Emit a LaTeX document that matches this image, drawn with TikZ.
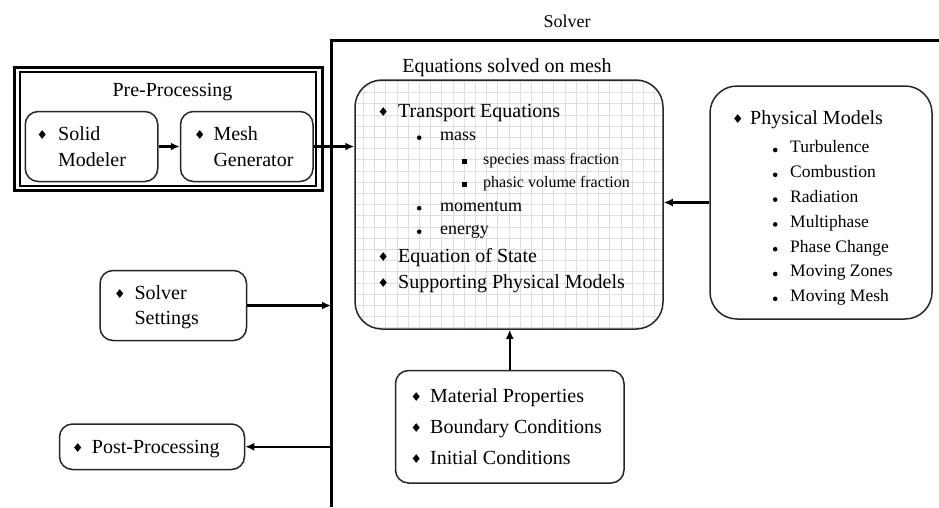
\documentclass[tikz,border=0pt]{standalone}
\usepackage{fontspec}
\setmainfont{Liberation Serif}
\usetikzlibrary{arrows.meta}

% bullets
\newcommand{\bdia}{\tikz[baseline=-5.5pt]\fill (0pt,4.3pt) -- (3.5pt,0pt) -- (0pt,-4.3pt) -- (-3.5pt,0pt) -- cycle;}
\newcommand{\bdot}{\tikz[baseline=-2.8pt]\fill (0pt,0pt) circle (2.3pt);}
\newcommand{\bsq}{\tikz[baseline=-3pt]\fill (-2.5pt,-2.5pt) rectangle (2.5pt,2.5pt);}
\newcommand{\dia}[1]{\makebox[#1][l]{\bdia}}
\newcommand{\sdot}[1]{\makebox[#1][l]{\bdot}}
\newcommand{\ssq}[1]{\makebox[#1][l]{\bsq}}

\begin{document}
\begin{tikzpicture}[x=1pt,y=-1pt,
    box/.style={draw=black!85,line width=1.5pt,rounded corners=13pt,inner sep=0pt},
    bigbox/.style={box,rounded corners=27pt},
    lst/.style={inner sep=0pt,anchor=base west,font=\fontsize{20}{#1}\selectfont},
    ttl/.style={inner sep=0pt,anchor=base,font=\fontsize{20}{24}\selectfont},
    arr/.style={line width=2.4pt,-{Latex[length=9pt,width=8pt]}},
    frame/.style={line width=3pt}]
  \useasboundingbox (0,0) rectangle (939,507);

  % solver frame
  \coordinate (stl) at (331,40);
  \draw[frame] (331,507) -- (stl) -- (939,40);
  \node[ttl,font=\fontsize{18}{22}\selectfont] (solvertitle) at (567,27) {Solver};

  % pre-processing
  \node[draw,frame,inner sep=0pt,minimum width=308pt,minimum height=123.5pt] (pre) at (168,128.75) {};
  \draw[line width=1.3pt] (20,72) rectangle (316,186);
  \node[ttl] (pretitle) at (172.5,96) {Pre-Processing};
  \node[box,minimum width=132.5pt,minimum height=70pt] (solid) at (91.5,146.5) {};
  \node[box,minimum width=132.5pt,minimum height=70pt] (mesh) at (246.75,146.5) {};
  \node[lst=26] (solidtxt) at (38.5,140) {\begin{tabular}[t]{@{}l@{}}
      \dia{19.5pt}Solid\\
      \hspace*{19.5pt}Modeler
    \end{tabular}};
  \node[lst=26] (meshtxt) at (196,140) {\begin{tabular}[t]{@{}l@{}}
      \dia{17.3pt}Mesh\\
      \hspace*{17.3pt}Generator
    \end{tabular}};

  % equations solved on mesh
  \node[bigbox,minimum width=308pt,minimum height=249pt,
    path picture={\draw[black!13,line width=0.8pt] (path picture bounding box.south west)
      grid[step=11.2pt] (path picture bounding box.north east);}] (eq) at (509,204.5) {};
  \node[ttl] (eqtitle) at (507,72) {Equations solved on mesh};
  \node[lst=23.5] (eqtxt) at (379.5,117) {\begin{tabular}[t]{@{}l@{}}
      \dia{18.5pt}Transport Equations\\
      \hspace*{37.2pt}\sdot{23.3pt}{\fontsize{18}{23.5}\selectfont mass}\\
      \hspace*{82.5pt}\ssq{21pt}{\fontsize{16}{23.5}\selectfont species mass fraction}\\
      \hspace*{82.5pt}\ssq{21pt}{\fontsize{16}{23.5}\selectfont phasic volume fraction}\\
      \hspace*{37.2pt}\sdot{23.3pt}{\fontsize{18}{23.5}\selectfont momentum}\\
      \hspace*{37.2pt}\sdot{23.3pt}{\fontsize{18}{23.5}\selectfont energy}\\[4pt]
      \dia{18.5pt}Equation of State\\[2.5pt]
      \dia{18.5pt}Supporting Physical Models
    \end{tabular}};

  % physical models
  \node[bigbox,minimum width=222pt,minimum height=233pt] (phys) at (821,202.5) {};
  \node[lst=24.8] (physTxT) at (734,124) {\begin{tabular}[t]{@{}l@{}}
      \dia{16pt}Physical Models\\[4pt]
      \hspace*{38.7pt}\sdot{17.3pt}{\fontsize{17.5}{24.8}\selectfont Turbulence}\\
      \hspace*{38.7pt}\sdot{17.3pt}{\fontsize{17.5}{24.8}\selectfont Combustion}\\
      \hspace*{38.7pt}\sdot{17.3pt}{\fontsize{17.5}{24.8}\selectfont Radiation}\\
      \hspace*{38.7pt}\sdot{17.3pt}{\fontsize{17.5}{24.8}\selectfont Multiphase}\\
      \hspace*{38.7pt}\sdot{17.3pt}{\fontsize{17.5}{24.8}\selectfont Phase Change}\\
      \hspace*{38.7pt}\sdot{17.3pt}{\fontsize{17.5}{24.8}\selectfont Moving Zones}\\
      \hspace*{38.7pt}\sdot{17.3pt}{\fontsize{17.5}{24.8}\selectfont Moving Mesh}
    \end{tabular}};

  % solver settings and post-processing
  \node[box,minimum width=146.5pt,minimum height=70pt] (settings) at (173.25,305.5) {};
  \node[lst=25] (settingstxt) at (116,299) {\begin{tabular}[t]{@{}l@{}}
      \dia{18.3pt}Solver\\
      \hspace*{18.3pt}Settings
    \end{tabular}};
  \node[box,minimum width=185pt,minimum height=45.5pt] (post) at (152,446.75) {};
  \node[lst=25] (posttxt) at (74,453) {\dia{17.7pt}Post-Processing};

  % material, boundary and initial conditions
  \node[box,minimum width=228.5pt,minimum height=112.5pt] (mat) at (509.75,426.75) {};
  \node[lst=31] (mattxt) at (412.5,402) {\begin{tabular}[t]{@{}l@{}}
      \dia{17.5pt}Material Properties\\
      \dia{17.5pt}Boundary Conditions\\
      \dia{17.5pt}Initial Conditions
    \end{tabular}};

  % arrows
  \draw[arr] (solid) -- (mesh);
  \draw[arr] (mesh.east) -- (mesh.east -| eq.west);
  \draw[arr] (phys.west) -- (phys.west -| eq.east);
  \draw[arr] (mat.north) -- (mat.north |- eq.south);
  \draw[arr] (settings.east) -- (settings.east -| stl);
  \draw[arr] (post.east -| stl) -- (post.east);
\end{tikzpicture}
\end{document}
